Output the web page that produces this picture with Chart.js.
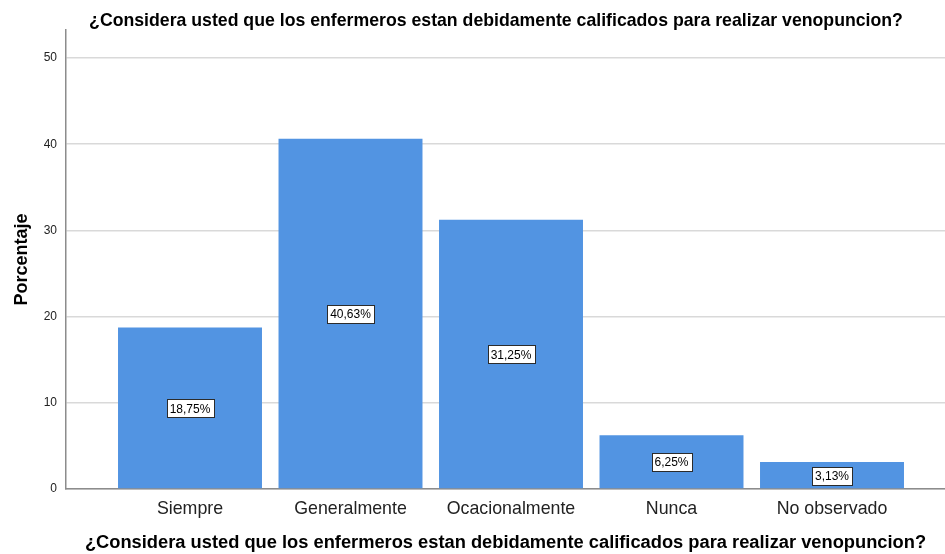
<!DOCTYPE html>
<html>
<head>
<meta charset="utf-8">
<script src="https://cdn.jsdelivr.net/npm/chart.js@4.4.1/dist/chart.umd.min.js"></script>
<style>
  html, body { margin: 0; padding: 0; background: #ffffff; }
  #wrap { width: 945px; height: 554px; }
</style>
</head>
<body>
<div id="wrap"><canvas id="chart" width="945" height="554"></canvas></div>
<script>
// Response categories and their percentages
const categories = ['Siempre', 'Generalmente', 'Ocacionalmente', 'Nunca', 'No observado'];
const percentages = [18.75, 40.63, 31.25, 6.25, 3.13];
const yTickValues = [0, 10, 20, 30, 40, 50];
const question = '¿Considera usted que los enfermeros estan debidamente calificados para realizar venopuncion?';
const yTitle = 'Porcentaje';

const BAR_COLOR = '#5294e2';
const FONT = "'Liberation Sans', Arial, sans-serif";

// Chart heading drawn above the plot area
const heading = {
  id: 'heading',
  afterDraw(chart) {
    const { ctx } = chart;
    ctx.save();
    ctx.font = 'bold 17.7px ' + FONT;
    ctx.fillStyle = '#000000';
    ctx.textAlign = 'center';
    ctx.textBaseline = 'alphabetic';
    ctx.fillText(question, 496, 26);
    ctx.restore();
  }
};

// Boxed value labels placed at half the bar height
const valueBoxes = {
  id: 'valueBoxes',
  afterDatasetsDraw(chart) {
    const { ctx } = chart;
    const meta = chart.getDatasetMeta(0);
    const yScale = chart.scales.y;
    ctx.save();
    ctx.font = '12px ' + FONT;
    ctx.textAlign = 'center';
    ctx.textBaseline = 'middle';
    meta.data.forEach((bar, i) => {
      const v = percentages[i];
      const text = v.toFixed(2).replace('.', ',') + '%';
      const cx = bar.x;
      const cy = yScale.getPixelForValue(v / 2);
      const w = Math.round(ctx.measureText(text).width + 6);
      const h = 18;
      const x0 = Math.round(cx - w / 2) + 0.5;
      const y0 = Math.round(cy - h / 2) + 0.5;
      ctx.fillStyle = '#ffffff';
      ctx.fillRect(x0, y0, w, h);
      ctx.strokeStyle = '#2b2b2b';
      ctx.lineWidth = 1;
      ctx.strokeRect(x0, y0, w, h);
      ctx.fillStyle = '#000000';
      ctx.fillText(text, cx, cy + 1);
    });
    ctx.restore();
  }
};

new Chart(document.getElementById('chart'), {
  type: 'bar',
  data: {
    datasets: [{
      data: percentages.map((v, i) => ({ x: i, y: v })),
      backgroundColor: BAR_COLOR,
      borderWidth: 0,
      barPercentage: 0.897,
      categoryPercentage: 1
    }]
  },
  options: {
    responsive: false,
    animation: false,
    layout: { padding: { left: 0, right: 0, top: 30, bottom: 0 } },
    plugins: {
      legend: { display: false },
      tooltip: { enabled: false },
      title: { display: false }
    },
    scales: {
      x: {
        type: 'linear',
        offset: false,
        min: -0.7726,
        max: 4.704,
        afterBuildTicks(scale) {
          scale.ticks = categories.map((_, i) => ({ value: i }));
        },
        afterFit(scale) { scale.height = 65; },
        grid: { display: false, drawTicks: false },
        border: { display: true, color: '#8c8c8c', width: 1.5 },
        ticks: {
          autoSkip: false,
          maxRotation: 0,
          padding: 9,
          color: '#222222',
          font: { family: FONT, size: 17.8 },
          callback: (v) => categories[v] ?? ''
        },
        title: {
          display: true,
          text: question,
          color: '#000000',
          font: { family: FONT, size: 18.3, weight: 'bold' },
          padding: { top: 0, bottom: 0 }
        }
      },
      y: {
        min: 0,
        max: 53.25,
        afterBuildTicks(scale) {
          scale.ticks = yTickValues.map(v => ({ value: v }));
        },
        afterFit(scale) { scale.width = 66; },
        grid: { color: '#d9d9d9', lineWidth: 1.5, drawTicks: false },
        border: { display: true, color: '#8c8c8c', width: 1.5 },
        ticks: {
          padding: 9,
          color: '#222222',
          font: { family: FONT, size: 12 }
        },
        title: {
          display: true,
          text: yTitle,
          color: '#000000',
          font: { family: FONT, size: 18, weight: 'bold' },
          padding: { top: 11, bottom: 0 }
        }
      }
    }
  },
  plugins: [valueBoxes, heading]
});
</script>
</body>
</html>
